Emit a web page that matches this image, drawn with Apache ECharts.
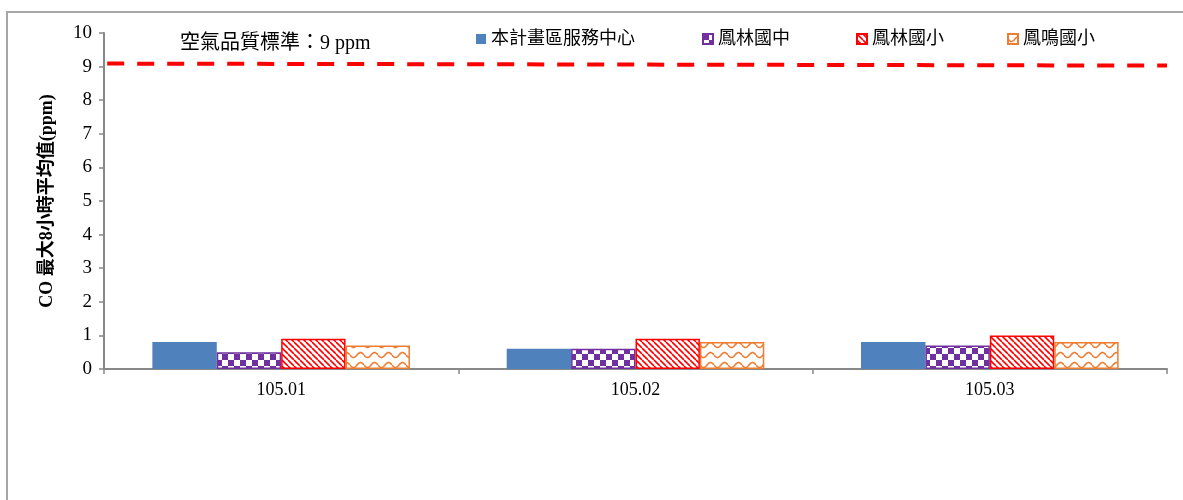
<!DOCTYPE html>
<html>
<head>
<meta charset="utf-8">
<script src="https://cdn.jsdelivr.net/npm/echarts@6/dist/echarts.min.js"></script>
<style>
html,body{margin:0;padding:0;background:#fff;}
#chart{width:1183px;height:500px;}
</style>
</head>
<body>
<div id="chart"></div>
<script>
// ---- data ----
const categories = ['105.01', '105.02', '105.03'];
const seriesNames = ['本計畫區服務中心', '鳳林國中', '鳳林國小', '鳳鳴國小'];
const valsCenter = [0.8, 0.6, 0.8];
const valsFLJH = [0.5, 0.6, 0.7];
const valsFLES = [0.9, 0.9, 1.0];
const valsFMES = [0.7, 0.8, 0.8];
const standardLine = [[0.003, 9.09], [1, 9.03]];
const standardLabel = '空氣品質標準：9 ppm';
const yAxisName = 'CO 最大8小時平均值(ppm)';

// ---- patterns ----
function makeCanvas(w, h, draw) {
  const c = document.createElement('canvas');
  c.width = w; c.height = h;
  const ctx = c.getContext('2d');
  draw(ctx, w, h);
  return c;
}
const purple = '#7030A0';
const red = '#FF0000';
const orange = '#ED7D31';
const checker = makeCanvas(12, 12, (ctx) => {
  ctx.fillStyle = '#fff'; ctx.fillRect(0, 0, 12, 12);
  ctx.fillStyle = purple;
  ctx.fillRect(0, 0, 6, 6); ctx.fillRect(6, 6, 6, 6);
});
const stripes = makeCanvas(6, 6, (ctx) => {
  ctx.fillStyle = '#fff'; ctx.fillRect(0, 0, 6, 6);
  ctx.strokeStyle = red; ctx.lineWidth = 1.6;
  ctx.beginPath();
  for (let k = -6; k <= 12; k += 6) { ctx.moveTo(k, 0); ctx.lineTo(k + 6, 6); }
  ctx.stroke();
});
const waves = makeCanvas(14, 10, (ctx) => {
  ctx.fillStyle = '#fff'; ctx.fillRect(0, 0, 14, 10);
  ctx.strokeStyle = orange; ctx.lineWidth = 1.6;
  ctx.beginPath();
  for (let x = 0; x <= 14; x += 0.5) {
    const y = 5 + 2.5 * Math.sin(x / 14 * Math.PI * 2);
    if (x === 0) ctx.moveTo(x, y); else ctx.lineTo(x, y);
  }
  ctx.stroke();
});

const serif = "'Liberation Serif', 'Noto Sans CJK TC', serif";
const chart = echarts.init(document.getElementById('chart'), null, {renderer: 'canvas'});

function legendAt(left, name) {
  return {
    left: left, top: 30, padding: 0, data: [name], icon: 'rect', itemWidth: 10, itemHeight: 10,
    itemGap: 0, textStyle: {fontFamily: serif, fontSize: 18, color: '#000'},
    selectedMode: false
  };
}

const barBase = {type: 'bar', barGap: '0%', barCategoryGap: '27.3%', xAxisIndex: 0, yAxisIndex: 0};

chart.setOption({
  animation: false,
  backgroundColor: '#fff',
  grid: {left: 104, right: 16, top: 33, bottom: 131, containLabel: false},
  legend: [
    legendAt(476, seriesNames[0]),
    legendAt(702, seriesNames[1]),
    legendAt(856, seriesNames[2]),
    legendAt(1007, seriesNames[3])
  ],
  xAxis: [
    {
      type: 'category', data: categories,
      axisLine: {lineStyle: {color: '#888', width: 2}},
      axisTick: {show: true, length: 5, lineStyle: {color: '#888', width: 1.5}},
      axisLabel: {color: '#000', fontFamily: serif, fontSize: 18, margin: 12}
    },
    {type: 'value', min: 0, max: 1, show: false}
  ],
  yAxis: {
    type: 'value', min: 0, max: 10, interval: 1,
    name: yAxisName, nameLocation: 'middle', nameGap: 48, nameRotate: 90,
    nameTextStyle: {fontFamily: serif, fontSize: 18, fontWeight: 'bold', color: '#000'},
    axisLine: {show: true, lineStyle: {color: '#888', width: 2}},
    axisTick: {show: true, length: 5, lineStyle: {color: '#888', width: 1.5}},
    axisLabel: {color: '#000', fontFamily: serif, fontSize: 19, margin: 12},
    splitLine: {show: false}
  },
  graphic: [
    {type: 'rect', shape: {x: 7, y: 12, width: 1300, height: 600}, style: {fill: 'none', stroke: '#a6a6a6', lineWidth: 2}, silent: true, z: -10},
    {type: 'text', left: 180, top: 34, style: {text: standardLabel, font: "20px 'Liberation Serif', 'Noto Sans CJK TC'", fill: '#000'}}
  ],
  series: [
    Object.assign({}, barBase, {name: seriesNames[0], data: valsCenter, itemStyle: {color: '#4F81BD'}}),
    Object.assign({}, barBase, {name: seriesNames[1], data: valsFLJH, itemStyle: {color: {image: checker, repeat: 'repeat'}, borderColor: purple, borderWidth: 1.5}}),
    Object.assign({}, barBase, {name: seriesNames[2], data: valsFLES, itemStyle: {color: {image: stripes, repeat: 'repeat'}, borderColor: red, borderWidth: 1.5}}),
    Object.assign({}, barBase, {name: seriesNames[3], data: valsFMES, itemStyle: {color: {image: waves, repeat: 'repeat'}, borderColor: orange, borderWidth: 1.5}}),
    {
      type: 'line', name: 'std', xAxisIndex: 1, yAxisIndex: 0, data: standardLine,
      symbol: 'none', z: 5,
      lineStyle: {color: red, width: 4, type: [17, 13]}
    }
  ]
});
</script>
</body>
</html>
